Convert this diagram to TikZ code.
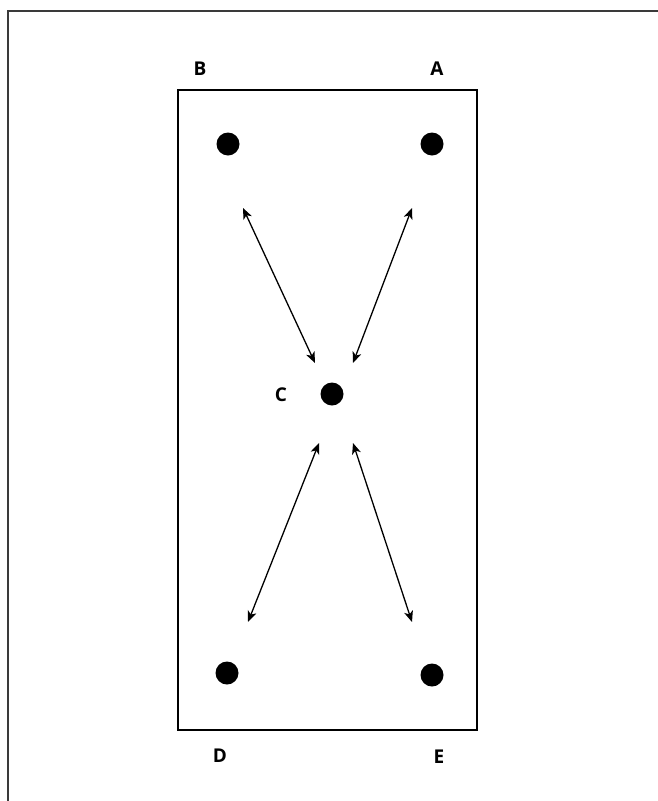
\documentclass[tikz,border=0pt]{standalone}
\usepackage{fontspec}
\setmainfont{Open Sans}
\usepackage{tikz}
\usetikzlibrary{arrows.meta,calc,positioning}
\definecolor{frame}{HTML}{3A3A3A}
\definecolor{ink}{HTML}{000000}
\tikzset{
  outer/.style={draw=frame,line width=1.1pt},
  plate/.style={draw=ink,line width=2.6pt},
  post/.style={circle,fill=ink,inner sep=0pt,minimum size=23pt},
  tag/.style={font=\fontsize{19}{21}\selectfont\bfseries,text=ink},
  link/.style={{Stealth[length=11pt,width=9pt,inset=3pt]}-{Stealth[length=11pt,width=9pt,inset=3pt]},draw=ink,line width=1.3pt}
}
\begin{document}
\begin{tikzpicture}[x=1pt,y=-1pt]
  \useasboundingbox (0,0) rectangle (658,801);
  \draw[outer] (8,801)--(8,11)--(658,11);
  \draw[plate] (178,90) rectangle (477,730);
  \node[post] (B) at (228,144) {};
  \node[post] (A) at (432,144) {};
  \node[post] (C) at (332,394) {};
  \node[post] (D) at (227,673) {};
  \node[post] (E) at (432,675) {};
  \node[tag] (lB) at (200,69) {B};
  \node[tag] (lA) at (437,69) {A};
  \node[tag] (lC) at (281,395) {C};
  \node[tag] (lD) at (220,756) {D};
  \node[tag] (lE) at (439,757) {E};
  \coordinate (b1) at (243,208); \coordinate (b2) at (315,363);
  \coordinate (a1) at (412,208); \coordinate (a2) at (353,363);
  \coordinate (d1) at (319,443); \coordinate (d2) at (248,622);
  \coordinate (e1) at (353,443); \coordinate (e2) at (412,622);
  \draw[link] (b1)--(b2);
  \draw[link] (a1)--(a2);
  \draw[link] (d1)--(d2);
  \draw[link] (e1)--(e2);
\end{tikzpicture}
\end{document}
